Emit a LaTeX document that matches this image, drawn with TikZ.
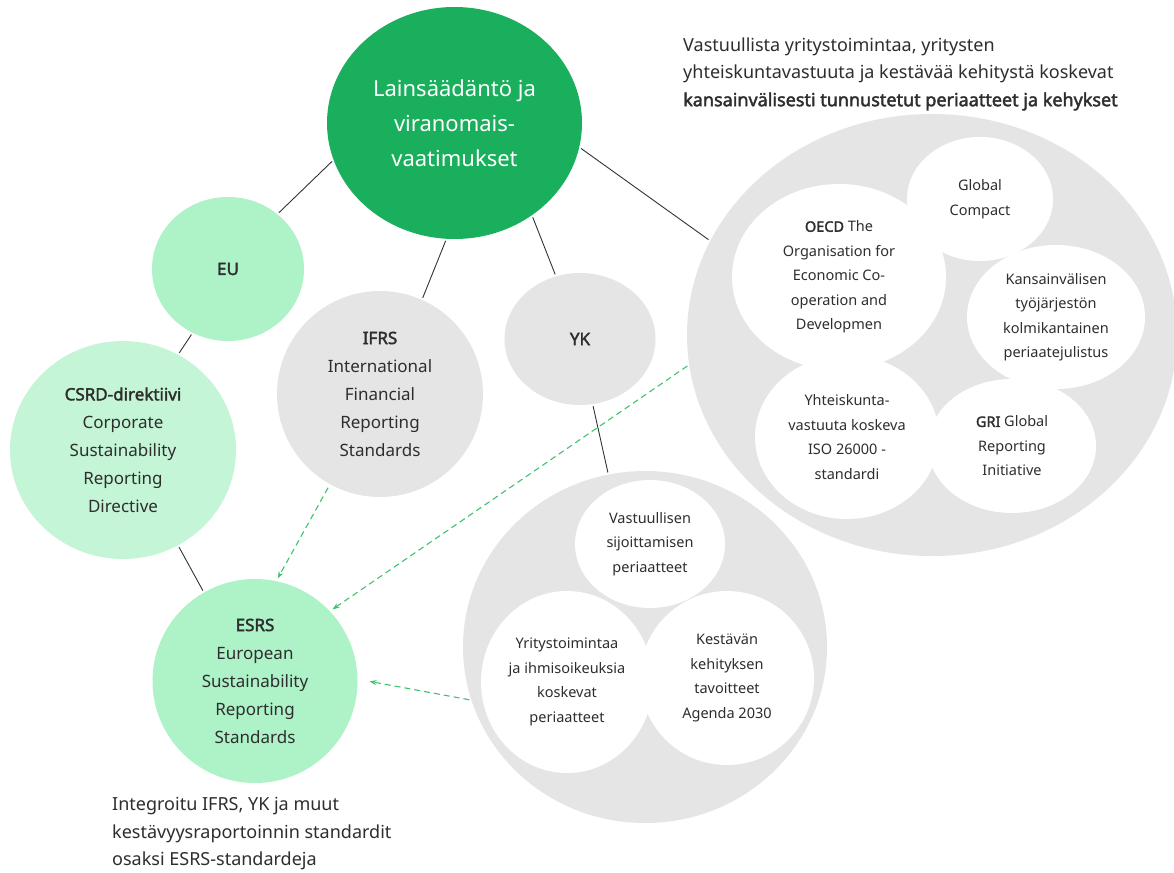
\documentclass[tikz,border=0pt]{standalone}
\usepackage{fontspec}
\setmainfont{Noto Sans}[BoldFont={Noto Sans}, BoldFeatures={FakeBold=2.2}]
\usetikzlibrary{shapes.geometric,arrows.meta}
\definecolor{maingreen}{HTML}{1AAF5D}
\definecolor{lgreen}{HTML}{AEF2C8}
\definecolor{lgreenb}{HTML}{C4F5D6}
\definecolor{greyc}{HTML}{E5E5E5}
\definecolor{dgreen}{HTML}{3CC46E}
\definecolor{txt}{HTML}{2E2E2E}
\definecolor{linec}{HTML}{333333}
\begin{document}
\begin{tikzpicture}[x=1pt,y=-1pt,
  bubble/.style={ellipse, inner sep=0pt, align=center, text=txt},
  big/.style={font=\fontsize{22}{35}\selectfont},
  mid/.style={font=\fontsize{17}{28}\selectfont},
  small/.style={font=\fontsize{14.5}{24.5}\selectfont},
  note/.style={font=\fontsize{18}{27.5}\selectfont, align=left, text=txt, inner sep=0pt},
  conn/.style={draw=linec, line width=0.9pt, shorten <=2pt, shorten >=2pt},
  flow/.style={draw=dgreen, line width=1.1pt, dash pattern=on 6pt off 4pt, -{Stealth[length=7pt,width=5pt]}}
]
\useasboundingbox (0,0) rectangle (1174,872);
\fill[white] (0,0) rectangle (1174,872);

% big grey groups
\node[bubble, fill=greyc, minimum width=490, minimum height=442] (right) at (932,335) {};
\node[bubble, fill=greyc, minimum width=364, minimum height=352] (bottom) at (645,647) {};

% right group inner circles
\node[bubble, fill=white, small, minimum width=214, minimum height=186] (oecd) at (839,277)
  {\textbf{OECD} The\\Organisation for\\Economic Co-\\operation and\\Developmen};
\node[bubble, fill=white, small, minimum width=146, minimum height=124] (gc) at (980,199)
  {Global\\Compact};
\node[bubble, fill=white, small, minimum width=178, minimum height=144] (ilo) at (1056,317)
  {Kansainvälisen\\työjärjestön\\kolmikantainen\\periaatejulistus};
\node[bubble, fill=white, small, minimum width=184, minimum height=164] (iso) at (847,437)
  {Yhteiskunta-\\vastuuta koskeva\\ISO 26000 -\\standardi};
\node[bubble, fill=white, small, minimum width=168, minimum height=134] (gri) at (1012,446)
  {\textbf{GRI} Global\\Reporting\\Initiative};

% bottom group inner circles
\node[bubble, fill=white, small, minimum width=150, minimum height=128] (vas) at (650,544)
  {Vastuullisen\\sijoittamisen\\periaatteet};
\node[bubble, fill=white, small, minimum width=172, minimum height=182] (yri) at (567,682)
  {Yritystoimintaa\\ja ihmisoikeuksia\\koskevat\\periaatteet};
\node[bubble, fill=white, small, minimum width=174, minimum height=174] (kes) at (727,678)
  {Kestävän\\kehityksen\\tavoitteet\\Agenda 2030};

% main nodes
\node[bubble, fill=maingreen, big, text=white, minimum width=255, minimum height=232] (main) at (454.5,123)
  {Lainsäädäntö ja\\viranomais-\\vaatimukset};
\node[bubble, fill=lgreen, mid, minimum width=152, minimum height=144] (eu) at (228,269) {\textbf{EU}};
\node[bubble, fill=lgreenb, mid, minimum width=226, minimum height=218] (csrd) at (123,450)
  {\textbf{CSRD-direktiivi}\\Corporate\\Sustainability\\Reporting\\Directive};
\node[bubble, fill=greyc, mid, minimum width=206, minimum height=206] (ifrs) at (380,394)
  {\textbf{IFRS}\\International\\Financial\\Reporting\\Standards};
\node[bubble, fill=greyc, mid, minimum width=151, minimum height=132] (yk) at (580,339) {\textbf{YK}};
\node[bubble, fill=lgreen, mid, minimum width=205, minimum height=204] (esrs) at (255,681)
  {\textbf{ESRS}\\European\\Sustainability\\Reporting\\Standards};

% texts
\node[note, anchor=west] (toptext) at (683,74)
  {Vastuullista yritystoimintaa, yritysten\\yhteiskuntavastuuta ja kestävää kehitystä koskevat\\\textbf{kansainvälisesti tunnustetut periaatteet ja kehykset}};
\node[note, anchor=west] (bottext) at (112,834)
  {Integroitu IFRS, YK ja muut\\kestävyysraportoinnin standardit\\osaksi ESRS-standardeja};

% connectors
\draw[conn] (main.197) -- (eu.48);
\draw[conn] (main.266) -- (ifrs.66);
\draw[conn] (main.310) -- (yk.111);
\draw[conn] (main.349) -- (right.157);
\draw[conn] (eu.241) -- (csrd.60);
\draw[conn] (csrd.300) -- (esrs.120);
\draw[conn] (yk.281) -- (bottom.102);

% dashed arrows
\draw[flow, shorten <=4pt, shorten >=3pt] (ifrs.241) -- (esrs.78);
\draw[flow, shorten <=2pt, shorten >=3pt] (right.187) -- (esrs.43);
\draw[flow, shorten <=2pt, shorten >=12pt] (bottom.197) -- (esrs.1);
\end{tikzpicture}
\end{document}
